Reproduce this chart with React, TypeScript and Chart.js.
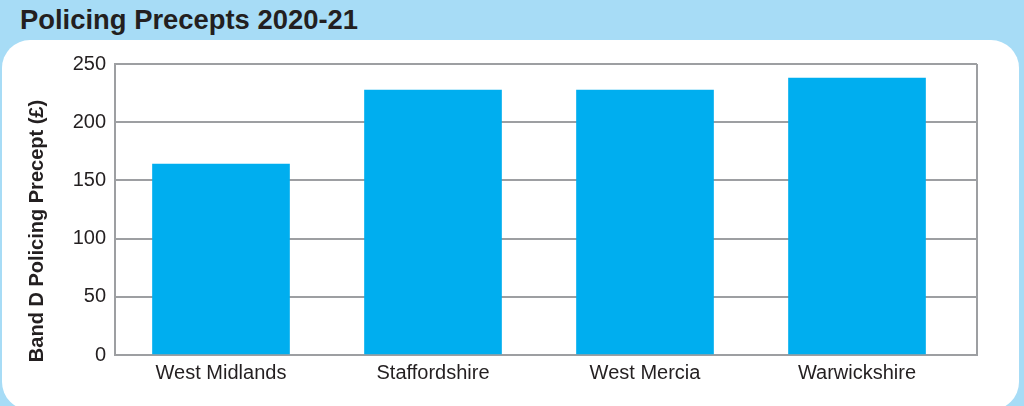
import React, { useEffect, useRef } from "react";
import { Chart, registerables } from "chart.js";

Chart.register(...registerables);

const categories = ["West Midlands", "Staffordshire", "West Mercia", "Warwickshire"];
const precepts = [164, 227.5, 227.5, 238];
const yTicks = [0, 50, 100, 150, 200, 250];
const title = "Policing Precepts 2020-21";
const yTitle = "Band D Policing Precept (£)";

const BG = "#a7dcf6";
const BAR = "#00aeef";
const GRID = "#9d9fa2";
const TEXT = "#231f20";
const FONT = "'Liberation Sans', Arial, Helvetica, sans-serif";

const frame = {
  id: "frame",
  afterDatasetsDraw(chart: any) {
    const { ctx, chartArea } = chart;
    ctx.save();
    ctx.strokeStyle = GRID;
    ctx.lineWidth = 2;
    ctx.beginPath();
    ctx.moveTo(chartArea.right, chartArea.top);
    ctx.lineTo(chartArea.right, chartArea.bottom);
    ctx.stroke();
    // y axis title
    ctx.fillStyle = TEXT;
    ctx.font = `bold 20px ${FONT}`;
    ctx.textAlign = "center";
    ctx.textBaseline = "middle";
    ctx.translate(37, 191);
    ctx.rotate(-Math.PI / 2);
    ctx.fillText(yTitle, 0, 0);
    ctx.restore();
  },
};

export default function App() {
  const ref = useRef<HTMLCanvasElement>(null);
  useEffect(() => {
    document.body.style.margin = "0";
    const chart = new Chart(ref.current!, {
      type: "bar",
      data: {
        datasets: [
          {
            data: precepts.map((v, i) => ({ x: i, y: v })),
            backgroundColor: BAR,
            borderWidth: 0,
            barThickness: 137,
          },
        ],
      },
      options: {
        animation: false,
        responsive: false,
        maintainAspectRatio: false,
        layout: { padding: { left: 21, right: 47, top: 24, bottom: 0 } },
        plugins: { legend: { display: false }, tooltip: { enabled: false } },
        scales: {
          x: {
            type: "linear",
            offset: false,
            min: -0.5,
            max: 3.566,
            afterBuildTicks: (s: any) => {
              s.ticks = categories.map((_, i) => ({ value: i }));
            },
            afterFit: (s: any) => {
              s.height = 51;
            },
            grid: { display: false, drawTicks: false, offset: false },
            border: { display: true, color: GRID, width: 2 },
            ticks: {
              autoSkip: false,
              maxRotation: 0,
              padding: 6,
              color: TEXT,
              font: { family: FONT, size: 20 },
              callback: (v: any) => categories[v] ?? "",
            },
          },
          y: {
            min: 0,
            max: 250,
            afterBuildTicks: (s: any) => {
              s.ticks = yTicks.map((v) => ({ value: v }));
            },
            afterFit: (s: any) => {
              s.width = 94;
            },
            grid: { color: GRID, lineWidth: 2, drawTicks: false },
            border: { display: true, color: GRID, width: 2 },
            ticks: {
              padding: 9,
              color: TEXT,
              font: { family: FONT, size: 20 },
            },
          },
        },
      },
      plugins: [frame],
    } as any);
    return () => chart.destroy();
  }, []);

  return (
    <div style={{ position: "relative", width: 1024, height: 406, background: BG, overflow: "hidden" }}>
      <div
        style={{
          position: "absolute",
          left: 20,
          top: 0,
          fontFamily: FONT,
          fontWeight: "bold",
          fontSize: 27.4,
          lineHeight: "40px",
          color: TEXT,
          whiteSpace: "nowrap",
        }}
      >
        {title}
      </div>
      <div
        style={{
          position: "absolute",
          left: 2,
          top: 40,
          width: 1017,
          height: 370,
          background: "#ffffff",
          borderRadius: 28,
        }}
      />
      <canvas
        ref={ref}
        width={1024}
        height={366}
        style={{ position: "absolute", left: 0, top: 40, width: 1024, height: 366 }}
      />
    </div>
  );
}
